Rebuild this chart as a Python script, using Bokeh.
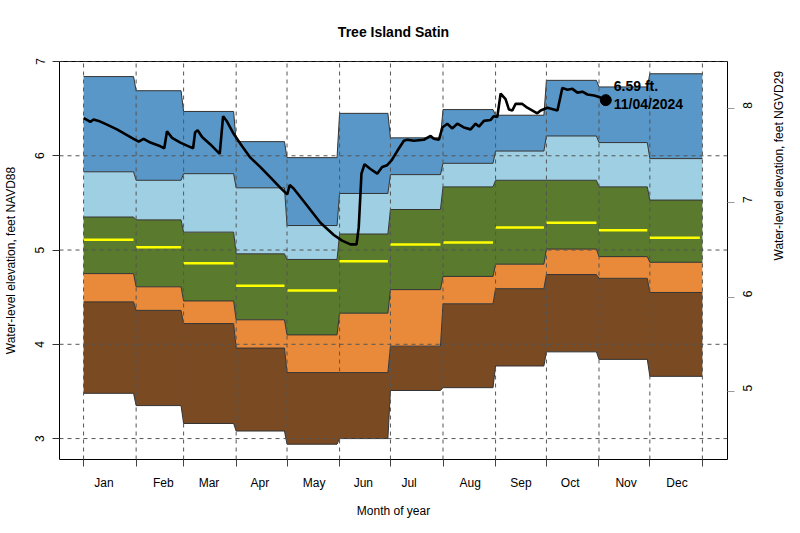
import math
from bokeh.plotting import figure
from bokeh.models import Range1d, LinearAxis, FixedTicker
from bokeh.embed import file_html
from bokeh.resources import INLINE
from bokeh.core.properties import value

# ---------------- data ----------------
months = ["Jan", "Feb", "Mar", "Apr", "May", "Jun", "Jul", "Aug", "Sep", "Oct", "Nov", "Dec"]
month_start_day = [1, 32, 60, 91, 121, 152, 182, 213, 244, 274, 305, 335, 366]
month_label_day = [13, 48, 75, 105, 137, 166, 193, 229, 259, 288, 321, 351]

left_ticks = [3, 4, 5, 6, 7]          # NAVD88
right_ticks = [5, 6, 7, 8]            # NGVD29
ngvd_offset = 1.5

band_top    = [6.84, 6.69, 6.47, 6.15, 5.98, 6.45, 6.19, 6.49, 6.43, 6.80, 6.73, 6.87]
band_upper  = [5.83, 5.74, 5.81, 5.66, 5.26, 5.60, 5.80, 5.92, 6.05, 6.21, 6.14, 5.97]
band_q3     = [5.35, 5.32, 5.19, 4.96, 4.90, 5.17, 5.43, 5.67, 5.74, 5.74, 5.67, 5.53]
band_q1     = [4.75, 4.61, 4.46, 4.26, 4.10, 4.33, 4.58, 4.72, 4.85, 5.01, 4.93, 4.87]
band_lower  = [4.45, 4.36, 4.22, 3.96, 3.70, 3.70, 3.98, 4.43, 4.59, 4.74, 4.70, 4.55]
band_bottom = [3.48, 3.35, 3.16, 3.08, 2.94, 3.00, 3.51, 3.54, 3.77, 3.92, 3.84, 3.66]
band_median = [5.11, 5.03, 4.86, 4.62, 4.57, 4.88, 5.06, 5.08, 5.24, 5.29, 5.21, 5.13]

level_day = [1.0, 3.0, 5.0, 6.9, 9.9, 14.8, 20.7, 26.6, 30.5, 33.5, 36.4, 40.4, 46.3, 48.6,
             50.2, 53.2, 58.1, 63.0, 65.6, 66.8, 68.3, 70.9, 75.8, 81.3, 83.3, 85.7, 89.6,
             94.5, 99.4, 105.3, 111.2, 117.1, 121.1, 122.6, 125.0, 132.9, 140.7, 148.6,
             153.5, 158.4, 162.0, 163.3, 164.9, 166.7, 170.2, 174.2, 177.1, 180.1, 182.6,
             186.0, 189.9, 191.9, 195.8, 201.7, 205.7, 207.6, 210.6, 212.6, 215.5, 218.5,
             221.4, 225.3, 229.3, 232.2, 234.2, 237.1, 241.1, 243.0, 245.0, 247.0, 249.9,
             251.9, 253.9, 255.8, 259.8, 262.7, 268.6, 270.6, 274.6, 280.5, 283.4, 286.4,
             289.3, 292.3, 295.2, 298.2, 302.1, 305.6, 309.0]
level_val = [6.40, 6.38, 6.36, 6.385, 6.37, 6.33, 6.28, 6.22, 6.18, 6.15, 6.18, 6.14, 6.10, 6.08,
             6.26, 6.19, 6.14, 6.10, 6.08, 6.25, 6.27, 6.20, 6.12, 6.02, 6.42, 6.36, 6.23,
             6.10, 5.98, 5.88, 5.77, 5.66, 5.59, 5.69, 5.65, 5.47, 5.29, 5.16,
             5.10, 5.06, 5.06, 5.24, 5.81, 5.91, 5.86, 5.81, 5.88, 5.90, 5.95,
             6.05, 6.16, 6.17, 6.16, 6.17, 6.21, 6.18, 6.17, 6.30, 6.34, 6.29,
             6.34, 6.30, 6.28, 6.34, 6.31, 6.37, 6.38, 6.42, 6.41, 6.66, 6.60,
             6.49, 6.48, 6.55, 6.55, 6.51, 6.45, 6.48, 6.51, 6.48, 6.72, 6.70,
             6.71, 6.67, 6.68, 6.65, 6.64, 6.62, 6.59]
last_date = "11/04/2024"

# ---------------- styling ----------------
FONT = "Liberation Sans"
c_dblue, c_lblue, c_green, c_orange, c_brown = "#5897c8", "#9ecfe2", "#5a7a2e", "#e88a3a", "#7a4a23"
edge = "#333333"
grid_col = "#555555"

x_lo, x_hi = -13.2, 380.8
y_lo, y_hi = 2.778, 7.0

p = figure(width=800, height=533, x_range=Range1d(x_lo, x_hi), y_range=Range1d(y_lo, y_hi),
           output_backend="svg", toolbar_location=None, x_axis_type=None, y_axis_type=None,
           min_border_left=59, min_border_right=73, min_border_top=59, min_border_bottom=74)
p.background_fill_color = "white"
p.border_fill_color = "white"
p.outline_line_color = "black"
p.outline_line_width = 1
p.xgrid.visible = False
p.ygrid.visible = False


def steps(vals):
    xs, ys = [], []
    n = len(vals)
    for i, v in enumerate(vals):
        s = month_start_day[i]
        e = month_start_day[i + 1]
        end = e if i == n - 1 else e - 1.5
        xs += [s, end]
        ys += [v, v]
    return xs, ys


levels = [band_bottom, band_lower, band_q1, band_q3, band_upper, band_top]
colors = [c_brown, c_orange, c_green, c_lblue, c_dblue]
for lo, hi, col in zip(levels[:-1], levels[1:], colors):
    xs, y1 = steps(lo)
    _, y2 = steps(hi)
    p.varea(x=xs, y1=y1, y2=y2, fill_color=col)

for lev in levels:
    xs, ys = steps(lev)
    p.line(xs, ys, line_color=edge, line_width=1)

# medians
p.segment(x0=month_start_day[:-1],
          x1=[e - 1.5 for e in month_start_day[1:]],
          y0=band_median, y1=band_median, line_color="#ffff00", line_width=2.5)

# dashed grid
p.multi_line(xs=[[d, d] for d in month_start_day], ys=[[y_lo, y_hi] for _ in month_start_day],
             line_color=grid_col, line_dash="4 4", line_width=1)
p.multi_line(xs=[[x_lo, x_hi] for _ in left_ticks], ys=[[t, t] for t in left_ticks],
             line_color=grid_col, line_dash="4 4", line_width=1)

# water level line
p.line(level_day, level_val, line_color="black", line_width=2.6)
p.scatter([level_day[-1]], [level_val[-1]], size=11, fill_color="black", line_color="black")
p.text([level_day[-1]], [level_val[-1]], text=[f"{level_val[-1]:.2f} ft.\n{last_date}"],
       x_offset=8, y_offset=-5, text_baseline="middle", text_align="left",
       text_font=value(FONT), text_font_style="bold", text_font_size="14px",
       text_color="black", text_line_height=1.15)

# ---------------- axes ----------------
def style_axis(ax):
    ax.axis_line_color = None
    ax.major_tick_out = 7
    ax.major_tick_in = 0
    ax.major_label_text_font = FONT
    ax.major_label_text_font_size = "12px"
    ax.major_label_text_color = "black"
    ax.axis_label_text_font = FONT
    ax.axis_label_text_font_size = "12px"
    ax.axis_label_text_font_style = "normal"
    ax.axis_label_text_color = "black"


xax = LinearAxis(ticker=FixedTicker(ticks=month_label_day, minor_ticks=month_start_day),
                 major_label_overrides={d: m for d, m in zip(month_label_day, months)},
                 axis_label="Month of year")
style_axis(xax)
xax.major_tick_line_color = None
xax.minor_tick_out = 7
xax.minor_tick_in = 0
xax.minor_tick_line_color = "#444444"
xax.major_label_standoff = 9
xax.axis_label_standoff = 11
p.add_layout(xax, "below")

yax = LinearAxis(ticker=FixedTicker(ticks=left_ticks),
                 axis_label="Water-level elevation, feet NAVD88")
style_axis(yax)
yax.major_tick_line_color = "#333333"
yax.major_label_orientation = "parallel"
yax.major_label_standoff = 8
yax.axis_label_standoff = 15
p.add_layout(yax, "left")

p.extra_y_ranges = {"ngvd": Range1d(y_lo + ngvd_offset, y_hi + ngvd_offset)}
rax = LinearAxis(y_range_name="ngvd", ticker=FixedTicker(ticks=right_ticks),
                 axis_label="Water-level elevation, feet NGVD29")
style_axis(rax)
rax.major_tick_line_color = "#999999"
rax.major_label_orientation = math.pi / 2
rax.axis_label_orientation = math.pi / 2
rax.major_label_standoff = 13
rax.axis_label_standoff = 19
p.add_layout(rax, "right")

p.title.text = "Tree Island Satin"
p.title.align = "center"
p.title.text_font = FONT
p.title.text_font_size = "14px"
p.title.text_font_style = "bold"
p.title.text_color = "black"
p.title.standoff = 43

open("out.html", "w").write(file_html(p, INLINE))
